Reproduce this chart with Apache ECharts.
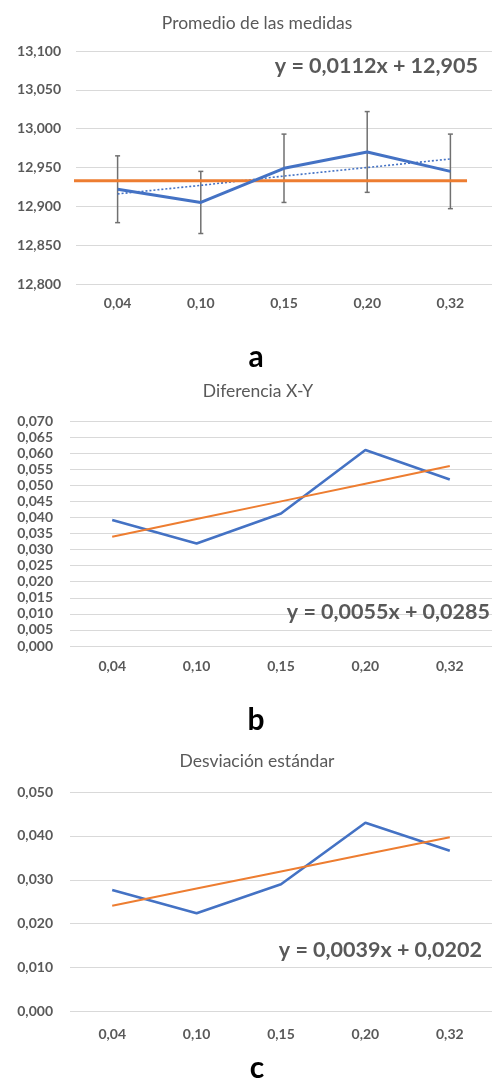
<!DOCTYPE html>
<html>
<head>
<meta charset="utf-8">
<script src="https://cdn.jsdelivr.net/npm/echarts@6/dist/echarts.min.js"></script>
<style>
html,body{margin:0;padding:0;background:#fff;}
#chart{width:492px;height:1080px;}
</style>
</head>
<body>
<div id="chart"></div>
<script>
const categories = ['0,04', '0,10', '0,15', '0,20', '0,32'];

const meanTitle = 'Promedio de las medidas';
const meanValues = [12.922, 12.905, 12.949, 12.970, 12.945];
const meanErrors = [0.043, 0.040, 0.044, 0.052, 0.048];
const meanTrend = [12.916, 12.927, 12.939, 12.950, 12.961];
const meanReference = 12.933;
const meanReferenceSpan = [-0.6, 4.2];
const meanEquation = 'y = 0,0112x + 12,905';

const diffTitle = 'Diferencia X-Y';
const diffValues = [0.0392, 0.0319, 0.0412, 0.0610, 0.0518];
const diffTrend = [0.0340, 0.0395, 0.0450, 0.0505, 0.0560];
const diffEquation = 'y = 0,0055x + 0,0285';

const sdTitle = 'Desviación estándar';
const sdValues = [0.0277, 0.0224, 0.0290, 0.0430, 0.0366];
const sdTrend = [0.0241, 0.0280, 0.0319, 0.0358, 0.0397];
const sdEquation = 'y = 0,0039x + 0,0202';

const panelLetters = ['a', 'b', 'c'];

const FONT = 'Lato, "Open Sans", sans-serif';
const BLUE = '#4472C4';
const ORANGE = '#ED7D31';
const GRID = '#D9D9D9';
const LABEL = '#595959';

const fmt = v => v.toFixed(3).replace('.', ',');

function catAxis(gridIndex, margin) {
  return {
    type: 'category', gridIndex, data: categories, boundaryGap: true,
    axisLine: { show: false }, axisTick: { show: false },
    axisLabel: { color: LABEL, fontFamily: FONT, fontSize: 14, fontWeight: 'bold', margin }
  };
}
function valAxis(gridIndex, min, max, interval, margin) {
  return {
    type: 'value', gridIndex, min, max, interval,
    axisLine: { show: false }, axisTick: { show: false },
    splitLine: { lineStyle: { color: GRID, width: 1 } },
    axisLabel: { color: LABEL, fontFamily: FONT, fontSize: 14, fontWeight: 'bold', margin, formatter: fmt }
  };
}

const chart = echarts.init(document.getElementById('chart'), null, { renderer: 'canvas' });

const option = {
  animation: false,
  backgroundColor: '#fff',
  grid: [
    { left: 76, right: 0, top: 51, height: 233 },
    { left: 70, right: 0, top: 421, height: 225 },
    { left: 70, right: 0, top: 792, height: 219.5 }
  ],
  xAxis: [
    catAxis(0, 12),
    catAxis(1, 13),
    catAxis(2, 16),
    { type: 'value', gridIndex: 0, min: -0.5, max: 4.5, show: false }
  ],
  yAxis: [
    valAxis(0, 12.8, 13.1, 0.05, 15),
    valAxis(1, 0, 0.07, 0.005, 17),
    valAxis(2, 0, 0.05, 0.01, 17)
  ],
  series: [
    {
      type: 'custom', xAxisIndex: 0, yAxisIndex: 0, z: 2,
      data: meanValues.map((v, i) => [i, v, meanErrors[i]]),
      renderItem: function (params, api) {
        const x = api.value(0), y = api.value(1), e = api.value(2);
        const top = api.coord([x, y + e]);
        const bot = api.coord([x, y - e]);
        const cap = 2.5;
        const st = { stroke: '#707070', lineWidth: 1.5 };
        return {
          type: 'group',
          children: [
            { type: 'line', shape: { x1: top[0], y1: top[1], x2: bot[0], y2: bot[1] }, style: st },
            { type: 'line', shape: { x1: top[0] - cap, y1: top[1], x2: top[0] + cap, y2: top[1] }, style: st },
            { type: 'line', shape: { x1: bot[0] - cap, y1: bot[1], x2: bot[0] + cap, y2: bot[1] }, style: st }
          ]
        };
      }
    },
    {
      type: 'line', xAxisIndex: 0, yAxisIndex: 0, data: meanTrend, z: 3,
      symbol: 'none', lineStyle: { color: BLUE, width: 1.6, type: [2, 2] }
    },
    {
      type: 'line', xAxisIndex: 3, yAxisIndex: 0, z: 4, clip: false,
      data: meanReferenceSpan.map(x => [x, meanReference]),
      symbol: 'none', lineStyle: { color: ORANGE, width: 3 }
    },
    {
      type: 'line', xAxisIndex: 0, yAxisIndex: 0, data: meanValues, z: 5,
      symbol: 'none', lineStyle: { color: BLUE, width: 3 }
    },
    {
      type: 'line', xAxisIndex: 1, yAxisIndex: 1, data: diffValues, z: 4,
      symbol: 'none', lineStyle: { color: BLUE, width: 2.6 }
    },
    {
      type: 'line', xAxisIndex: 1, yAxisIndex: 1, data: diffTrend, z: 5,
      symbol: 'none', lineStyle: { color: ORANGE, width: 2 }
    },
    {
      type: 'line', xAxisIndex: 2, yAxisIndex: 2, data: sdValues, z: 4,
      symbol: 'none', lineStyle: { color: BLUE, width: 2.6 }
    },
    {
      type: 'line', xAxisIndex: 2, yAxisIndex: 2, data: sdTrend, z: 5,
      symbol: 'none', lineStyle: { color: ORANGE, width: 2 }
    }
  ],
  graphic: [
    { type: 'text', x: 257, y: 23, style: { text: meanTitle, fill: LABEL, font: '17.5px ' + FONT, textAlign: 'center', textVerticalAlign: 'middle' } },
    { type: 'text', x: 258, y: 391, style: { text: diffTitle, fill: LABEL, font: '17.5px ' + FONT, textAlign: 'center', textVerticalAlign: 'middle' } },
    { type: 'text', x: 257, y: 761, style: { text: sdTitle, fill: LABEL, font: '17.5px ' + FONT, textAlign: 'center', textVerticalAlign: 'middle' } },
    { type: 'text', x: 478, y: 66, z: 10, style: { text: meanEquation, fill: LABEL, font: 'bold 21.5px ' + FONT, textAlign: 'right', textVerticalAlign: 'middle' } },
    { type: 'text', x: 490, y: 612, z: 10, style: { text: diffEquation, fill: LABEL, font: 'bold 21.5px ' + FONT, textAlign: 'right', textVerticalAlign: 'middle' } },
    { type: 'text', x: 482, y: 950, z: 10, style: { text: sdEquation, fill: LABEL, font: 'bold 21.5px ' + FONT, textAlign: 'right', textVerticalAlign: 'middle' } },
    { type: 'text', x: 256, y: 357, style: { text: panelLetters[0], fill: '#000', font: 'bold 30px ' + FONT, textAlign: 'center', textVerticalAlign: 'middle' } },
    { type: 'text', x: 256, y: 720, style: { text: panelLetters[1], fill: '#000', font: 'bold 30px ' + FONT, textAlign: 'center', textVerticalAlign: 'middle' } },
    { type: 'text', x: 257, y: 1068, style: { text: panelLetters[2], fill: '#000', font: 'bold 30px ' + FONT, textAlign: 'center', textVerticalAlign: 'middle' } }
  ]
};
chart.setOption(option);
</script>
</body>
</html>
